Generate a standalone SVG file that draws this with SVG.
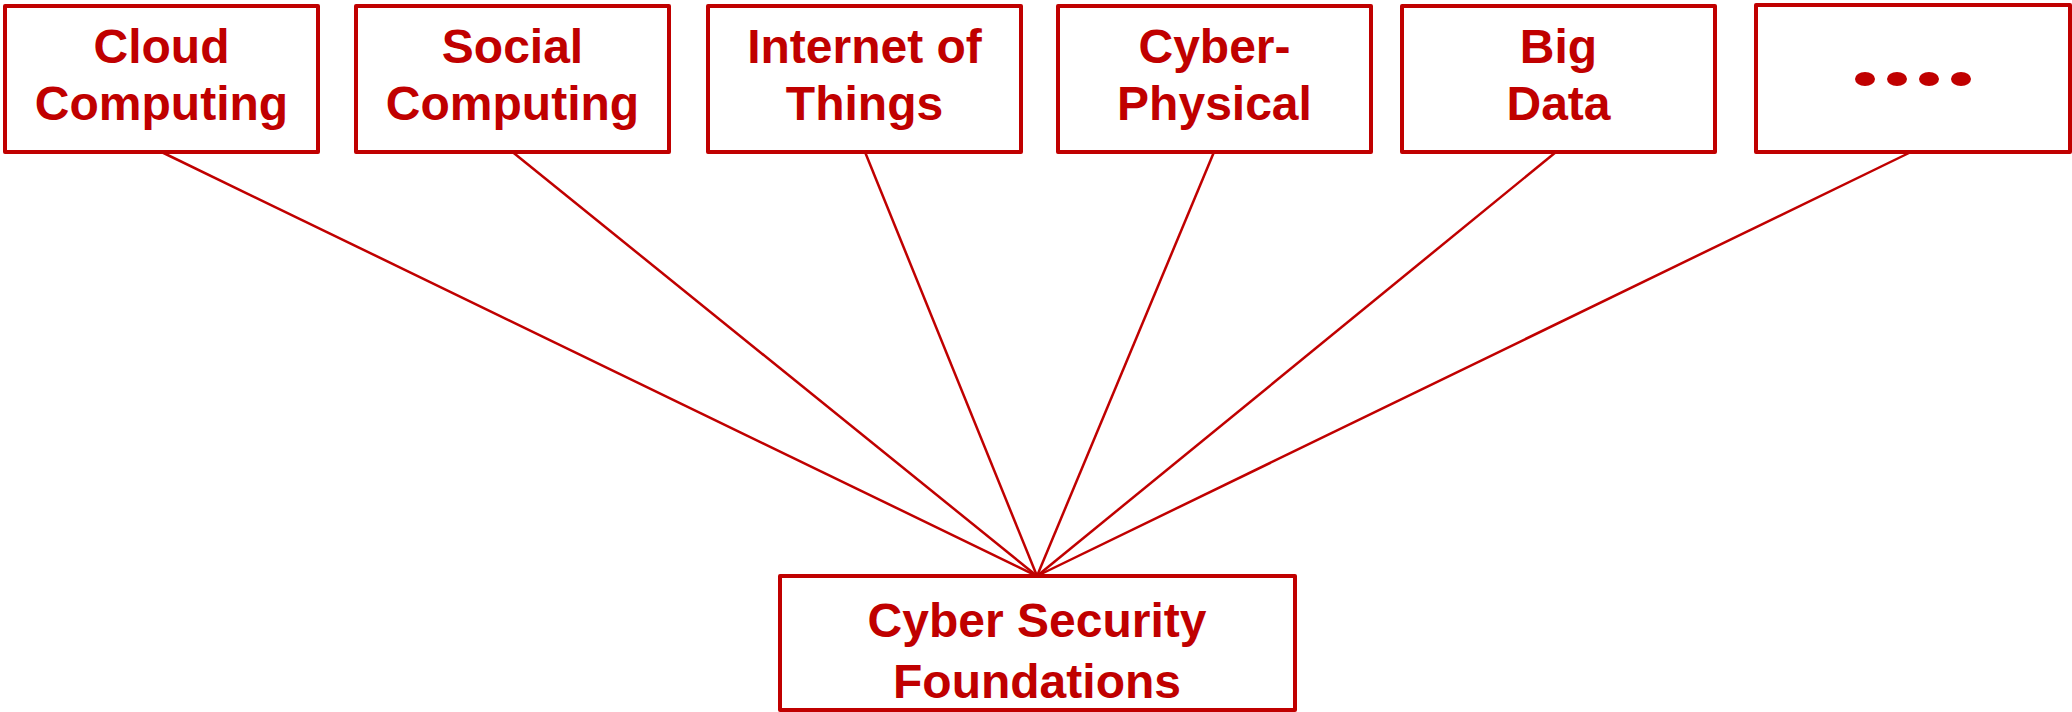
<svg xmlns="http://www.w3.org/2000/svg" width="2072" height="712" viewBox="0 0 2072 712">
<style>
.box{fill:#fff;stroke:#C00000;stroke-width:4;stroke-linejoin:round}
.t{font-family:"Liberation Sans",Arial,sans-serif;font-weight:bold;font-size:48px;fill:#C00000;text-anchor:middle}
.c{stroke:#C00000;stroke-width:2.5;fill:none}
</style>
<rect width="2072" height="712" fill="#fff"/>
<g id="connectors">
<line class="c" x1="161.5" y1="152" x2="1037" y2="576"/>
<line class="c" x1="512.5" y1="152" x2="1037" y2="576"/>
<line class="c" x1="865" y1="152" x2="1037" y2="576"/>
<line class="c" x1="1214" y1="152" x2="1037" y2="576"/>
<line class="c" x1="1556" y1="152" x2="1037" y2="576"/>
<line class="c" x1="1911" y1="152" x2="1037" y2="576"/>
</g>
<g id="cloud"><rect class="box" x="5" y="6" width="313" height="146"/><text class="t" x="161.5" y="63">Cloud</text><text class="t" x="161.5" y="120">Computing</text></g>
<g id="social"><rect class="box" x="356" y="6" width="313" height="146"/><text class="t" x="512.5" y="63">Social</text><text class="t" x="512.5" y="120">Computing</text></g>
<g id="iot"><rect class="box" x="708" y="6" width="313" height="146"/><text class="t" x="864.5" y="63">Internet of</text><text class="t" x="864.5" y="120">Things</text></g>
<g id="cps"><rect class="box" x="1058" y="6" width="313" height="146"/><text class="t" x="1214.5" y="63">Cyber-</text><text class="t" x="1214.5" y="120">Physical</text></g>
<g id="bigdata"><rect class="box" x="1402" y="6" width="313" height="146"/><text class="t" x="1558.5" y="63">Big</text><text class="t" x="1558.5" y="120">Data</text></g>
<g id="more"><rect class="box" x="1756" y="5" width="314" height="147"/>
<ellipse cx="1865" cy="79" rx="10" ry="7" fill="#C00000"/><ellipse cx="1897" cy="79" rx="10" ry="7" fill="#C00000"/><ellipse cx="1929" cy="79" rx="10" ry="7" fill="#C00000"/><ellipse cx="1961" cy="79" rx="10" ry="7" fill="#C00000"/></g>
<g id="foundations"><rect class="box" x="780" y="576" width="515" height="134"/><text class="t" x="1037" y="637">Cyber Security</text><text class="t" x="1037" y="698">Foundations</text></g>
</svg>
